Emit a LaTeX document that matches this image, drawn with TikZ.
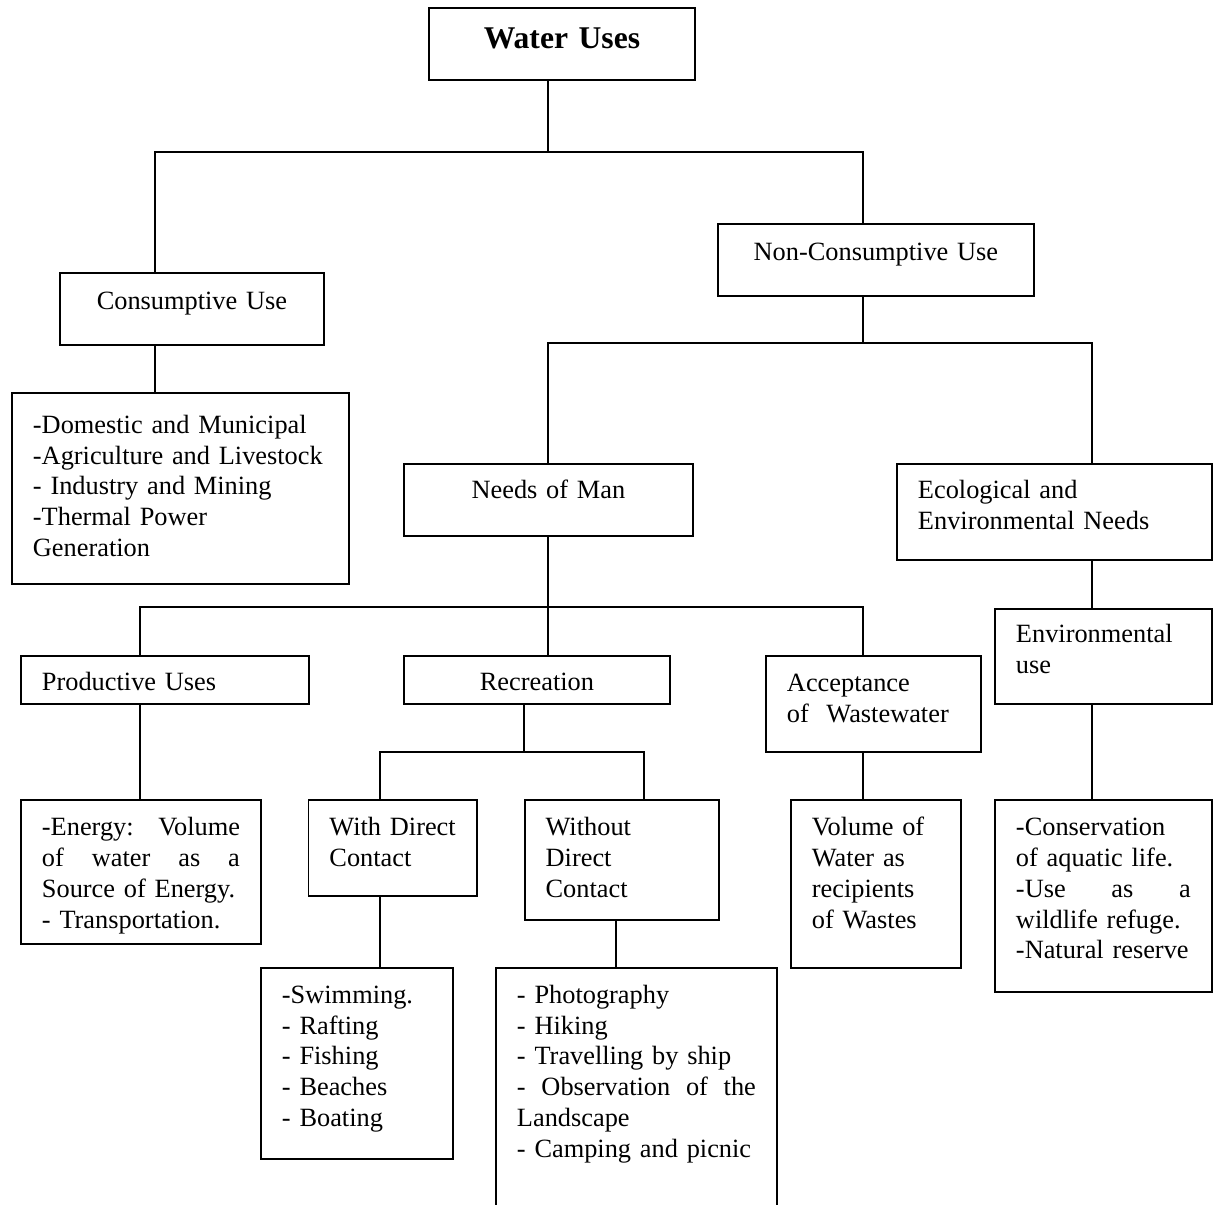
\documentclass[tikz,border=0pt]{standalone}
\usepackage{fontspec}
\setmainfont{Liberation Serif}
\usepackage{tikz}
\usetikzlibrary{positioning,calc}
\newcommand{\boxfont}{\fontsize{15}{17.5}\selectfont}
\newcommand{\titlefont}{\fontsize{18}{21}\selectfont\bfseries}
\newcommand{\jline}[1]{\leavevmode\hbox to \hsize{#1}}
\tikzstyle{box} = [draw, line width=1.1pt, anchor=north west, inner xsep=0.42cm, inner ysep=0pt, align=left, font=\boxfont]
\tikzstyle{link} = [line width=1pt]

\begin{document}
\begin{tikzpicture}[x=0.02cm, y=-0.02cm]

\useasboundingbox (0,0) rectangle (1213,1204);
\clip (0,0) rectangle (1213,1204);

% Top level
\node[box, align=center, font=\titlefont, text width=4.48cm, text height=0.82cm, text depth=0.62cm] (water) at (428,7) {Water Uses};

% Second level
\node[box, align=center, text width=4.44cm, text height=0.73cm, text depth=0.71cm] (cons) at (59,272) {Consumptive Use};
\node[box, align=center, text width=5.48cm, text height=0.73cm, text depth=0.71cm] (noncons) at (717,223) {Non-Consumptive Use};
\node[box, text width=5.90cm, text height=0.81cm, text depth=3.01cm] (dom) at (11,392) {-Domestic and Municipal\\-Agriculture and Livestock\\- Industry and Mining\\-Thermal Power\\Generation};

% Third level
\node[box, align=center, text width=4.94cm, text height=0.69cm, text depth=0.75cm] (needs) at (403,463) {Needs of Man};
\node[box, text width=5.46cm, text height=0.70cm, text depth=1.22cm] (ecol) at (896,463) {Ecological and\\Environmental Needs};

% Fourth level
\node[box, text width=4.92cm, text height=0.70cm, text depth=0.26cm] (prod) at (20,655) {Productive Uses};
\node[box, align=center, text width=4.48cm, text height=0.70cm, text depth=0.26cm] (recr) at (403,655) {Recreation};
\node[box, text width=3.46cm, text height=0.71cm, text depth=1.21cm] (accept) at (765,655) {Acceptance\\of\ \ Wastewater};
\node[box, text width=3.50cm, text height=0.67cm, text depth=1.23cm] (envuse) at (994,608) {Environmental\\use};

% Fifth level
\node[box, text width=3.96cm, text height=0.72cm, text depth=2.16cm] (energy) at (20,799) {\jline{-Energy:\hfill Volume}\\\jline{of\hfill water\hfill as\hfill a}\\Source of Energy.\\- Transportation.};
\node[box, text width=2.53cm, text height=0.72cm, text depth=1.20cm] (direct) at (307.5,799) {\mbox{With Direct}\\Contact};
\node[box, text width=3.04cm, text height=0.72cm, text depth=1.68cm] (nodirect) at (523.7,799) {Without\\Direct\\Contact};
\node[box, text width=2.56cm, text height=0.72cm, text depth=2.64cm] (volume) at (790,799) {Volume of\\Water as\\recipients\\of Wastes};
\node[box, text width=3.50cm, text height=0.72cm, text depth=3.12cm] (conserv) at (994,799) {-Conservation\\of aquatic life.\\\jline{-Use\hfill as\hfill a}\\wildlife refuge.\\-Natural reserve};

% Sixth level
\node[box, text width=3.00cm, text height=0.71cm, text depth=3.11cm] (swim) at (260,967) {-Swimming.\\- Rafting\\- Fishing\\- Beaches\\- Boating};
\node[box, text width=4.78cm, text height=0.71cm, text depth=4.30cm] (photo) at (495,967) {- Photography\\- Hiking\\- Travelling by ship\\\jline{-\hfill Observation\hfill of\hfill the}\\Landscape\\- Camping and picnic};

% Connectors from Water Uses
\coordinate (t1) at (548,152);
\coordinate (t1l) at (155,152);
\coordinate (t1r) at (863,152);
\draw[link] (water.south -| t1) -- (t1);
\draw[link] (t1l |- cons.north) -- (t1l) -- (t1r) -- (t1r |- noncons.north);
\draw[link] (t1l |- cons.south) -- (t1l |- dom.north);

% Connectors from Non-Consumptive Use
\coordinate (t2) at (863,343);
\coordinate (t2l) at (548,343);
\coordinate (t2r) at (1092,343);
\draw[link] (noncons.south -| t2) -- (t2);
\draw[link] (t2l |- needs.north) -- (t2l) -- (t2r) -- (t2r |- ecol.north);
\draw[link] (t2r |- ecol.south) -- (t2r |- envuse.north);
\draw[link] (t2r |- envuse.south) -- (t2r |- conserv.north);

% Connectors from Needs of Man
\coordinate (t3) at (548,607);
\coordinate (t3l) at (140,607);
\coordinate (t3r) at (863,607);
\draw[link] (needs.south -| t3) -- (t3) -- (t3 |- recr.north);
\draw[link] (t3l |- prod.north) -- (t3l) -- (t3r) -- (t3r |- accept.north);
\draw[link] (t3l |- prod.south) -- (t3l |- energy.north);
\draw[link] (t3r |- accept.south) -- (t3r |- volume.north);

% Connectors from Recreation
\coordinate (t4) at (524,752);
\coordinate (t4l) at (380,752);
\coordinate (t4r) at (644,752);
\coordinate (t5) at (616,943);
\draw[link] (recr.south -| t4) -- (t4);
\draw[link] (t4l |- direct.north) -- (t4l) -- (t4r) -- (t4r |- nodirect.north);
\draw[link] (t4l |- direct.south) -- (t4l |- swim.north);
\draw[link] (t5 |- nodirect.south) -- (t5 |- photo.north);

\end{tikzpicture}
\end{document}
